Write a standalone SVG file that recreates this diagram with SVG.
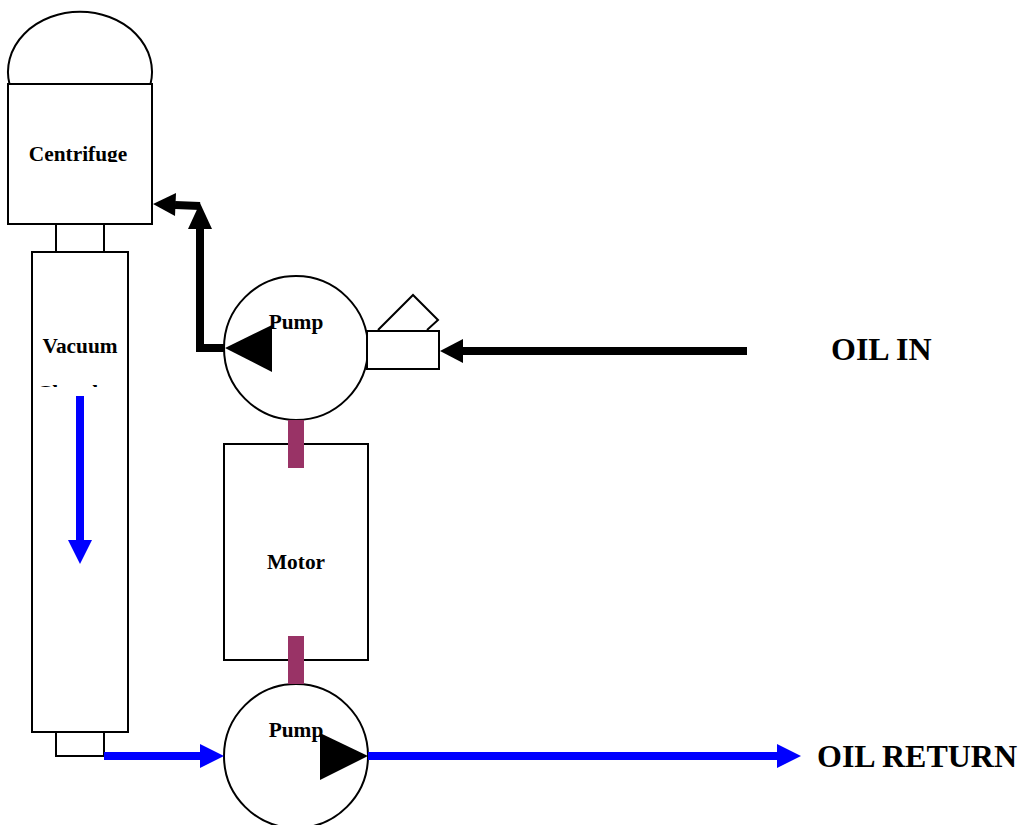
<svg xmlns="http://www.w3.org/2000/svg" width="1020" height="825" viewBox="0 0 1020 825">
<style>
.s{fill:#fff;stroke:#000;stroke-width:2}
.o{fill:none;stroke:#000;stroke-width:2}
.t{font-family:"Liberation Serif","Times New Roman",serif;font-weight:bold;fill:#000}
.m{font-size:21.33px}
.b{font-size:32px}
.k{fill:none;stroke:#000;stroke-width:8}
.u{fill:none;stroke:#00f;stroke-width:8}
.h{fill:#000}
.n{fill:#00f}
.r{fill:#993366}
</style>
<defs>
<clipPath id="c1"><rect x="0" y="130" width="160" height="32"/></clipPath>
<clipPath id="c2"><rect x="34" y="385" width="92" height="2"/></clipPath>
</defs>
<rect width="1020" height="825" fill="#fff"/>
<g id="centrifuge">
<path class="o" d="M9.5 84A72 60 0 1 1 150.5 84"/>
<rect class="s" x="8" y="84" width="144" height="140"/>
<text class="t m" x="78" y="161" text-anchor="middle" clip-path="url(#c1)">Centrifuge</text>
</g>
<g id="neck-top">
<path class="o" d="M56 224V252M104 224V252"/>
</g>
<g id="vacuum-chamber">
<rect class="s" x="32" y="252" width="96" height="480"/>
<text class="t m" x="80" y="353" text-anchor="middle">Vacuum</text>
<text class="t m" x="80" y="400" text-anchor="middle" clip-path="url(#c2)">Chamber</text>
</g>
<g id="neck-bottom">
<rect class="s" x="56" y="732" width="48" height="24"/>
</g>
<g id="motor">
<rect class="s" x="224" y="444" width="144" height="216"/>
<text class="t m" x="296" y="569" text-anchor="middle">Motor</text>
</g>
<g id="pump-top">
<circle class="s" cx="296" cy="348" r="72"/>
<path class="h" d="M225 348L272 325V372Z"/>
<text class="t m" x="296" y="329" text-anchor="middle">Pump</text>
</g>
<g id="pump-bottom">
<circle class="s" cx="296" cy="756" r="72"/>
<text class="t m" x="296" y="737" text-anchor="middle">Pump</text>
<path class="h" d="M368 756L320 733V780Z"/>
</g>
<g id="valve">
<path class="o" d="M378 330L413 295L438 320L427 330"/>
<rect class="s" x="367" y="331" width="72" height="38"/>
</g>
<g id="connectors">
<path class="r" d="M288 420H304V468H288ZM288 636H304V684H288Z"/>
<path class="k" d="M747 351H462"/>
<path class="h" d="M440 351L463 339V363Z"/>
<path class="k" d="M224 348H200V228"/>
<path class="h" d="M200 203L212 229H188Z"/>
<path class="k" d="M200 206L175 205"/>
<path class="h" d="M153 204L176 193L175 216Z"/>
<path class="u" d="M80 396V542"/>
<path class="n" d="M80 564L68 540H92Z"/>
<path class="u" d="M104 756H202"/>
<path class="n" d="M224 756L200 744V768Z"/>
<path class="u" d="M368 756H778"/>
<path class="n" d="M801 756L777 744V768Z"/>
</g>
<g id="labels">
<text class="t b" x="831" y="360">OIL IN</text>
<text class="t b" x="817" y="767">OIL RETURN</text>
</g>
</svg>
